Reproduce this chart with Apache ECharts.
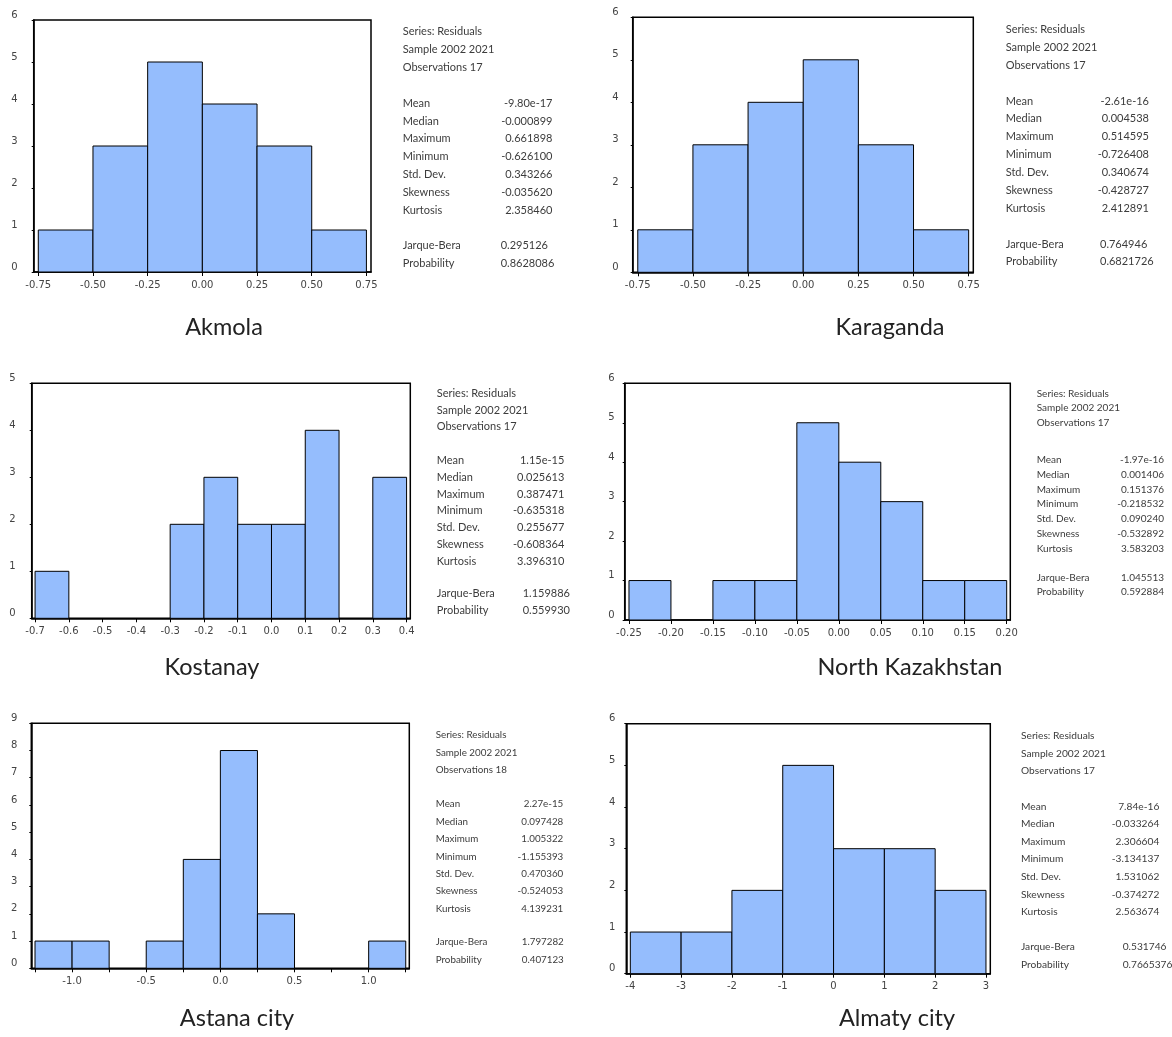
<!DOCTYPE html>
<html>
<head>
<meta charset="utf-8">
<script src="https://cdn.jsdelivr.net/npm/echarts@6/dist/echarts.min.js"></script>
<style>
html,body{margin:0;padding:0;background:#fff;}
#chart{width:1172px;height:1037px;}
</style>
</head>
<body>
<div id="chart"></div>
<script>
// ---------- DATA ----------
const panelNames = ['Akmola', 'Karaganda', 'Kostanay', 'North Kazakhstan', 'Astana city', 'Almaty city'];

// histogram bin edges and counts
const akmolaEdges = [-0.75, -0.50, -0.25, 0.00, 0.25, 0.50, 0.75];
const akmolaCounts = [1, 3, 5, 4, 3, 1];
const karagandaEdges = [-0.75, -0.50, -0.25, 0.00, 0.25, 0.50, 0.75];
const karagandaCounts = [1, 3, 4, 5, 3, 1];
const kostanayEdges = [-0.7, -0.6, -0.5, -0.4, -0.3, -0.2, -0.1, 0.0, 0.1, 0.2, 0.3, 0.4];
const kostanayCounts = [1, 0, 0, 0, 2, 3, 2, 2, 4, 0, 3];
const northKazEdges = [-0.25, -0.20, -0.15, -0.10, -0.05, 0.00, 0.05, 0.10, 0.15, 0.20];
const northKazCounts = [1, 0, 1, 1, 5, 4, 3, 1, 1];
const astanaEdges = [-1.25, -1.00, -0.75, -0.50, -0.25, 0.00, 0.25, 0.50, 0.75, 1.00, 1.25];
const astanaCounts = [1, 1, 0, 1, 4, 8, 2, 0, 0, 1];
const almatyEdges = [-4, -3, -2, -1, 0, 1, 2, 3];
const almatyCounts = [1, 1, 2, 5, 3, 3, 2];

// x tick values / labels
const akmolaTicks = [-0.75, -0.50, -0.25, 0.00, 0.25, 0.50, 0.75];
const karagandaTicks = [-0.75, -0.50, -0.25, 0.00, 0.25, 0.50, 0.75];
const kostanayTicks = [-0.7, -0.6, -0.5, -0.4, -0.3, -0.2, -0.1, 0.0, 0.1, 0.2, 0.3, 0.4];
const northKazTicks = [-0.25, -0.20, -0.15, -0.10, -0.05, 0.00, 0.05, 0.10, 0.15, 0.20];
const astanaTicks = [-1.25, -1.00, -0.75, -0.50, -0.25, 0.00, 0.25, 0.50, 0.75, 1.00, 1.25];
const astanaTickLabels = [-1.0, -0.5, 0.0, 0.5, 1.0];
const almatyTicks = [-4, -3, -2, -1, 0, 1, 2, 3];

// y axis maxima
const yMaxes = [6, 6, 5, 6, 9, 6];

// statistics text
const headerLines = ['Series: Residuals', 'Sample 2002 2021'];
const observations = ['17', '17', '17', '17', '18', '17'];
const statLabels = ['Mean', 'Median', 'Maximum', 'Minimum', 'Std. Dev.', 'Skewness', 'Kurtosis'];
const jbLabels = ['Jarque-Bera', 'Probability'];
const akmolaStats = ['-9.80e-17', '-0.000899', '0.661898', '-0.626100', '0.343266', '-0.035620', '2.358460'];
const akmolaJB = ['0.295126', '0.8628086'];
const karagandaStats = ['-2.61e-16', '0.004538', '0.514595', '-0.726408', '0.340674', '-0.428727', '2.412891'];
const karagandaJB = ['0.764946', '0.6821726'];
const kostanayStats = ['1.15e-15', '0.025613', '0.387471', '-0.635318', '0.255677', '-0.608364', '3.396310'];
const kostanayJB = ['1.159886', '0.559930'];
const northKazStats = ['-1.97e-16', '0.001406', '0.151376', '-0.218532', '0.090240', '-0.532892', '3.583203'];
const northKazJB = ['1.045513', '0.592884'];
const astanaStats = ['2.27e-15', '0.097428', '1.005322', '-1.155393', '0.470360', '-0.524053', '4.139231'];
const astanaJB = ['1.797282', '0.407123'];
const almatyStats = ['7.84e-16', '-0.033264', '2.306604', '-3.134137', '1.531062', '-0.374272', '2.563674'];
const almatyJB = ['0.531746', '0.7665376'];

// ---------- LAYOUT ----------
const panels = [
  {edges: akmolaEdges, counts: akmolaCounts, ticks: akmolaTicks, labels: akmolaTicks, dec: 2, stats: akmolaStats, jb: akmolaJB,
   grid: {left: 33.7, top: 20, width: 337.3, height: 252}, xr: [-0.771, 0.771], ylm: 16,
   txt: {x: 402.7, h: 31.7, s0: 103.3, j: 245.7, sp: 17.8, vr: 552.5, jl: 500.7, ja: 'left', fs: 11},
   title: {x: 224, y: 327}},
  {edges: karagandaEdges, counts: karagandaCounts, ticks: karagandaTicks, labels: karagandaTicks, dec: 2, stats: karagandaStats, jb: karagandaJB,
   grid: {left: 632.7, top: 17.3, width: 340.6, height: 255}, xr: [-0.773, 0.771], ylm: 14,
   txt: {x: 1005.7, h: 29.3, s0: 101, j: 244, sp: 17.9, vr: 1149, jl: 1100, ja: 'left', fs: 11},
   title: {x: 890, y: 327}},
  {edges: kostanayEdges, counts: kostanayCounts, ticks: kostanayTicks, labels: kostanayTicks, dec: 1, stats: kostanayStats, jb: kostanayJB,
   grid: {left: 31.7, top: 383.3, width: 378.6, height: 235}, xr: [-0.710, 0.411], ylm: 16,
   txt: {x: 436.7, h: 393.3, s0: 460.7, j: 593.3, sp: 16.75, vr: 564.3, jl: 522.7, ja: 'left', fs: 11},
   title: {x: 212, y: 667}},
  {edges: northKazEdges, counts: northKazCounts, ticks: northKazTicks, labels: northKazTicks, dec: 2, stats: northKazStats, jb: northKazJB,
   grid: {left: 624.7, top: 383.3, width: 385.6, height: 236.7}, xr: [-0.2551, 0.2043], ylm: 10,
   txt: {x: 1036.7, h: 393.3, s0: 459.7, j: 577.3, sp: 14.8, vr: 1164, jl: 1164, ja: 'right', fs: 10},
   title: {x: 910, y: 667}},
  {edges: astanaEdges, counts: astanaCounts, ticks: astanaTicks, labels: astanaTickLabels, dec: 1, stats: astanaStats, jb: astanaJB,
   grid: {left: 31.3, top: 723.3, width: 378, height: 245}, xr: [-1.275, 1.274], ylm: 14,
   txt: {x: 435.7, h: 735, s0: 804.3, j: 942.3, sp: 17.4, vr: 563.3, jl: 521.7, ja: 'left', fs: 9.8},
   title: {x: 237, y: 1018}},
  {edges: almatyEdges, counts: almatyCounts, ticks: almatyTicks, labels: almatyTicks, dec: 0, stats: almatyStats, jb: almatyJB,
   grid: {left: 626.3, top: 723.7, width: 364, height: 250}, xr: [-4.079, 3.085], ylm: 11,
   txt: {x: 1021, h: 736, s0: 806.3, j: 947, sp: 17.6, vr: 1159.3, jl: 1122.7, ja: 'left', fs: 10.2},
   title: {x: 897, y: 1018}}
];

const BAR_FILL = '#95bdfd';
const TEXT_COLOR = '#3c3c3c';
const AXIS_FONT = 'DejaVu Sans';
const TEXT_FONT = 'Lato';

const option = {animation: false, backgroundColor: '#fff', grid: [], xAxis: [], yAxis: [], series: [], graphic: []};

function renderBin(params, api) {
  const c = api.value(2);
  if (!c) return null;
  const p0 = api.coord([api.value(0), c]);
  const p1 = api.coord([api.value(1), 0]);
  return {
    type: 'rect',
    shape: {x: p0[0], y: p0[1], width: p1[0] - p0[0], height: p1[1] - p0[1]},
    style: {fill: BAR_FILL, stroke: '#000', lineWidth: 1}
  };
}

function txt(x, y, text, fs, align) {
  return {type: 'text', x: x, y: y, silent: true,
    style: {text: text, fontSize: fs, fontFamily: TEXT_FONT, fill: TEXT_COLOR, align: align || 'left', verticalAlign: 'middle'}};
}

panels.forEach(function (p, i) {
  option.grid.push({show: true, left: p.grid.left, top: p.grid.top, width: p.grid.width, height: p.grid.height,
    borderColor: '#000', borderWidth: 1.5, backgroundColor: 'transparent', containLabel: false});
  option.xAxis.push({
    type: 'value', gridIndex: i, min: p.xr[0], max: p.xr[1],
    axisLine: {show: true, onZero: false, lineStyle: {color: '#000', width: 1.5}},
    axisTick: {show: true, length: 4, customValues: p.ticks, lineStyle: {color: '#000'}},
    axisLabel: {show: true, customValues: p.labels, margin: 8, fontSize: 10, fontFamily: AXIS_FONT, color: '#444',
      formatter: (function (d) { return function (v) { return Number(v).toFixed(d); }; })(p.dec)},
    splitLine: {show: false}
  });
  option.yAxis.push({
    type: 'value', gridIndex: i, min: 0, max: yMaxes[i], interval: 1,
    axisLine: {show: true, onZero: false, lineStyle: {color: '#000', width: 1.5}},
    axisTick: {show: true, length: 2, lineStyle: {color: '#000'}},
    axisLabel: {show: true, margin: p.ylm, fontSize: 10, fontFamily: AXIS_FONT, color: '#444', verticalAlign: 'bottom'},
    splitLine: {show: false}
  });
  const data = p.counts.map(function (c, k) { return [p.edges[k], p.edges[k + 1], c]; });
  option.series.push({type: 'custom', xAxisIndex: i, yAxisIndex: i, renderItem: renderBin,
    encode: {x: [0, 1], y: 2}, data: data, clip: false});

  const t = p.txt;
  headerLines.concat(['Observations ' + observations[i]]).forEach(function (line, k) {
    option.graphic.push(txt(t.x, t.h + k * t.sp, line, t.fs));
  });
  statLabels.forEach(function (lab, k) {
    option.graphic.push(txt(t.x, t.s0 + k * t.sp, lab, t.fs));
    option.graphic.push(txt(t.vr, t.s0 + k * t.sp, p.stats[k], t.fs, 'right'));
  });
  jbLabels.forEach(function (lab, k) {
    option.graphic.push(txt(t.x, t.j + k * t.sp, lab, t.fs));
    option.graphic.push(txt(t.jl, t.j + k * t.sp, p.jb[k], t.fs, t.ja));
  });
  option.graphic.push({type: 'text', x: p.title.x, y: p.title.y, silent: true,
    style: {text: panelNames[i], fontSize: 23.5, fontFamily: TEXT_FONT, fill: '#222', align: 'center', verticalAlign: 'middle'}});
});

const chart = echarts.init(document.getElementById('chart'), null, {renderer: 'canvas'});
chart.setOption(option);
</script>
</body>
</html>
